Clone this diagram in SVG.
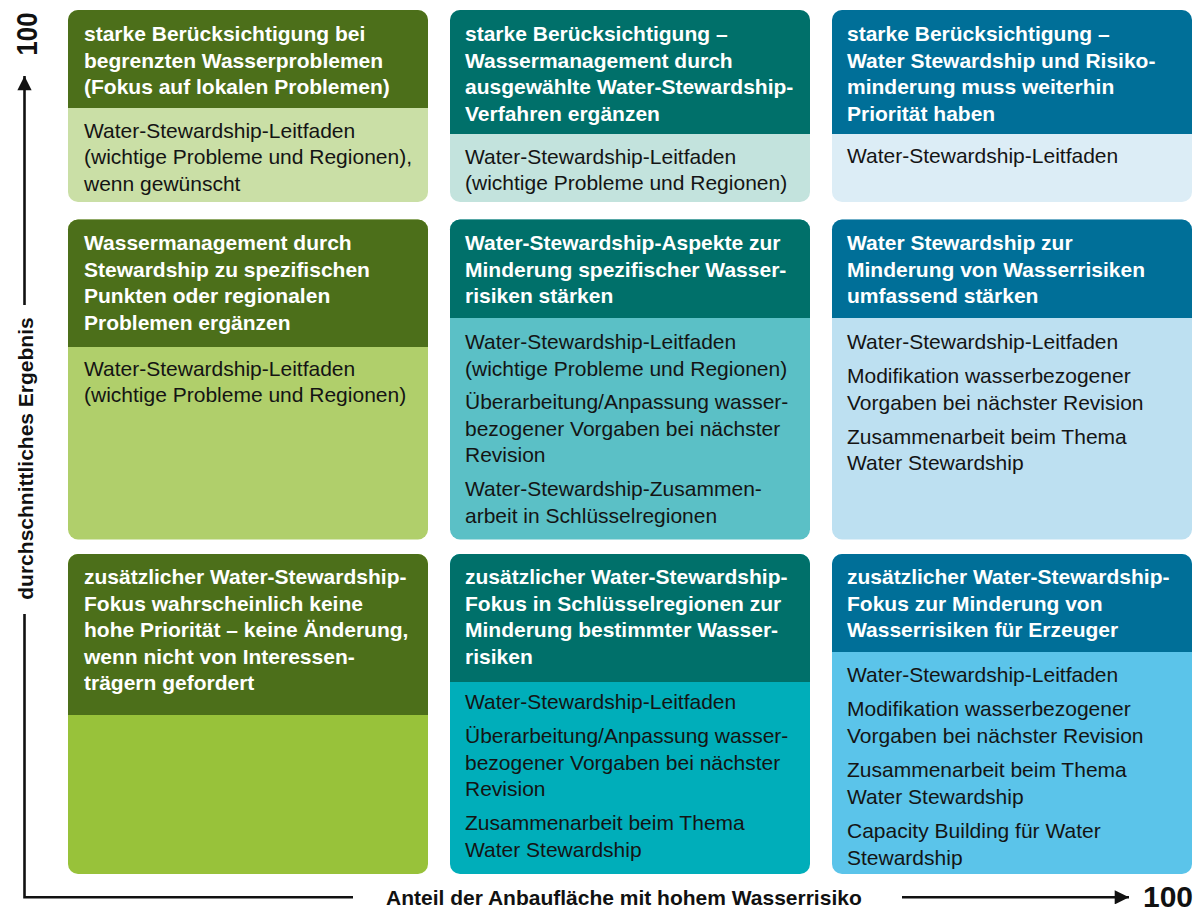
<svg xmlns="http://www.w3.org/2000/svg" width="1203" height="911" viewBox="0 0 1203 911">
<style>
.hd{font-family:"Liberation Sans",Arial,sans-serif;font-weight:bold;font-size:21px;fill:#ffffff}
.bd{font-family:"Liberation Sans",Arial,sans-serif;font-size:21px;fill:#141414}
.ax{font-family:"Liberation Sans",Arial,sans-serif;font-weight:bold;font-size:21px;fill:#111}
.num{font-family:"Liberation Sans",Arial,sans-serif;font-weight:bold;font-size:30px;fill:#111}
.axl{stroke:#111;stroke-width:2.6;fill:none}
.g1{fill:#4c6f1a}.g2{fill:#00706a}.g3{fill:#006f98}
</style>
<defs>
<marker id="ah" viewBox="0 0 10 10" refX="10" refY="5" markerWidth="7" markerHeight="5.5" markerUnits="strokeWidth" orient="auto">
<path d="M0,0 L10,5 L0,10 Z" fill="#111"/>
</marker>
</defs>

<g id="axes">
<line class="axl" x1="24.5" y1="305" x2="24.5" y2="76" marker-end="url(#ah)"/>
<polyline class="axl" points="24.5,614 24.5,897.3 353,897.3"/>
<line class="axl" x1="902" y1="897.3" x2="1129" y2="897.3" marker-end="url(#ah)"/>
<text class="num" transform="translate(37,34) rotate(-90)" text-anchor="middle" textLength="43" lengthAdjust="spacingAndGlyphs">100</text>
<text class="ax" transform="translate(33,458.5) rotate(-90)" text-anchor="middle">durchschnittliches Ergebnis</text>
<text class="ax" x="386" y="905">Anteil der Anbaufläche mit hohem Wasserrisiko</text>
<text class="num" x="1143" y="907">100</text>
</g>

<!-- Row 1 -->
<g id="r1c1">
<rect x="68" y="10" width="360" height="192" rx="10" fill="#cadfa6"/>
<path class="g1" d="M68,108 V20 A10,10 0 0 1 78,10 H418 A10,10 0 0 1 428,20 V108 Z"/>
<text class="hd"><tspan x="84" y="41">starke Berücksichtigung bei</tspan><tspan x="84" y="67.5">begrenzten Wasserproblemen</tspan><tspan x="84" y="94">(Fokus auf lokalen Problemen)</tspan></text>
<text class="bd"><tspan x="84" y="137.5">Water-Stewardship-Leitfaden</tspan><tspan x="84" y="164">(wichtige Probleme und Regionen),</tspan><tspan x="84" y="190.5">wenn gewünscht</tspan></text>
</g>
<g id="r1c2">
<rect x="450" y="10" width="360" height="192" rx="10" fill="#c3e3dd"/>
<path class="g2" d="M450,134 V20 A10,10 0 0 1 460,10 H800 A10,10 0 0 1 810,20 V134 Z"/>
<text class="hd"><tspan x="465" y="41">starke Berücksichtigung –</tspan><tspan x="465" y="67.5">Wassermanagement durch</tspan><tspan x="465" y="94">ausgewählte Water-Stewardship-</tspan><tspan x="465" y="120.5">Verfahren ergänzen</tspan></text>
<text class="bd"><tspan x="465" y="163.5">Water-Stewardship-Leitfaden</tspan><tspan x="465" y="190">(wichtige Probleme und Regionen)</tspan></text>
</g>
<g id="r1c3">
<rect x="832" y="10" width="360" height="192" rx="10" fill="#dcedf6"/>
<path class="g3" d="M832,134 V20 A10,10 0 0 1 842,10 H1182 A10,10 0 0 1 1192,20 V134 Z"/>
<text class="hd"><tspan x="847" y="41">starke Berücksichtigung –</tspan><tspan x="847" y="67.5">Water Stewardship und Risiko-</tspan><tspan x="847" y="94">minderung muss weiterhin</tspan><tspan x="847" y="120.5">Priorität haben</tspan></text>
<text class="bd"><tspan x="847" y="163">Water-Stewardship-Leitfaden</tspan></text>
</g>

<!-- Row 2 -->
<g id="r2c1">
<rect x="68" y="219.5" width="360" height="320" rx="10" fill="#b0cf6b"/>
<path class="g1" d="M68,347 V229.5 A10,10 0 0 1 78,219.5 H418 A10,10 0 0 1 428,229.5 V347 Z"/>
<text class="hd"><tspan x="84" y="250">Wassermanagement durch</tspan><tspan x="84" y="276.5">Stewardship zu spezifischen</tspan><tspan x="84" y="303">Punkten oder regionalen</tspan><tspan x="84" y="329.5">Problemen ergänzen</tspan></text>
<text class="bd"><tspan x="84" y="375.5">Water-Stewardship-Leitfaden</tspan><tspan x="84" y="402">(wichtige Probleme und Regionen)</tspan></text>
</g>
<g id="r2c2">
<rect x="450" y="219.5" width="360" height="320" rx="10" fill="#5bc0c6"/>
<path class="g2" d="M450,318 V229.5 A10,10 0 0 1 460,219.5 H800 A10,10 0 0 1 810,229.5 V318 Z"/>
<text class="hd"><tspan x="465" y="250">Water-Stewardship-Aspekte zur</tspan><tspan x="465" y="276.5">Minderung spezifischer Wasser-</tspan><tspan x="465" y="303">risiken stärken</tspan></text>
<text class="bd"><tspan x="465" y="349">Water-Stewardship-Leitfaden</tspan><tspan x="465" y="375.5">(wichtige Probleme und Regionen)</tspan><tspan x="465" y="409">Überarbeitung/Anpassung wasser-</tspan><tspan x="465" y="435.5">bezogener Vorgaben bei nächster</tspan><tspan x="465" y="462">Revision</tspan><tspan x="465" y="496">Water-Stewardship-Zusammen-</tspan><tspan x="465" y="522.5">arbeit in Schlüsselregionen</tspan></text>
</g>
<g id="r2c3">
<rect x="832" y="219.5" width="360" height="320" rx="10" fill="#bde0f1"/>
<path class="g3" d="M832,318 V229.5 A10,10 0 0 1 842,219.5 H1182 A10,10 0 0 1 1192,229.5 V318 Z"/>
<text class="hd"><tspan x="847" y="250">Water Stewardship zur</tspan><tspan x="847" y="276.5">Minderung von Wasserrisiken</tspan><tspan x="847" y="303">umfassend stärken</tspan></text>
<text class="bd"><tspan x="847" y="349">Water-Stewardship-Leitfaden</tspan><tspan x="847" y="383">Modifikation wasserbezogener</tspan><tspan x="847" y="409.5">Vorgaben bei nächster Revision</tspan><tspan x="847" y="443.5">Zusammenarbeit beim Thema</tspan><tspan x="847" y="470">Water Stewardship</tspan></text>
</g>

<!-- Row 3 -->
<g id="r3c1">
<rect x="68" y="554" width="360" height="320" rx="10" fill="#98c23a"/>
<path class="g1" d="M68,715 V564 A10,10 0 0 1 78,554 H418 A10,10 0 0 1 428,564 V715 Z"/>
<text class="hd"><tspan x="84" y="584">zusätzlicher Water-Stewardship-</tspan><tspan x="84" y="610.5">Fokus wahrscheinlich keine</tspan><tspan x="84" y="637">hohe Priorität – keine Änderung,</tspan><tspan x="84" y="663.5">wenn nicht von Interessen-</tspan><tspan x="84" y="690">trägern gefordert</tspan></text>
</g>
<g id="r3c2">
<rect x="450" y="554" width="360" height="320" rx="10" fill="#00aeba"/>
<path class="g2" d="M450,682 V564 A10,10 0 0 1 460,554 H800 A10,10 0 0 1 810,564 V682 Z"/>
<text class="hd"><tspan x="465" y="584">zusätzlicher Water-Stewardship-</tspan><tspan x="465" y="610.5">Fokus in Schlüsselregionen zur</tspan><tspan x="465" y="637">Minderung bestimmter Wasser-</tspan><tspan x="465" y="663.5">risiken</tspan></text>
<text class="bd"><tspan x="465" y="708.5">Water-Stewardship-Leitfaden</tspan><tspan x="465" y="743">Überarbeitung/Anpassung wasser-</tspan><tspan x="465" y="769.5">bezogener Vorgaben bei nächster</tspan><tspan x="465" y="796">Revision</tspan><tspan x="465" y="830">Zusammenarbeit beim Thema</tspan><tspan x="465" y="856.5">Water Stewardship</tspan></text>
</g>
<g id="r3c3">
<rect x="832" y="554" width="360" height="320" rx="10" fill="#5bc4ea"/>
<path class="g3" d="M832,652 V564 A10,10 0 0 1 842,554 H1182 A10,10 0 0 1 1192,564 V652 Z"/>
<text class="hd"><tspan x="847" y="584">zusätzlicher Water-Stewardship-</tspan><tspan x="847" y="610.5">Fokus zur Minderung von</tspan><tspan x="847" y="637">Wasserrisiken für Erzeuger</tspan></text>
<text class="bd"><tspan x="847" y="681.5">Water-Stewardship-Leitfaden</tspan><tspan x="847" y="716">Modifikation wasserbezogener</tspan><tspan x="847" y="742.5">Vorgaben bei nächster Revision</tspan><tspan x="847" y="777">Zusammenarbeit beim Thema</tspan><tspan x="847" y="803.5">Water Stewardship</tspan><tspan x="847" y="838">Capacity Building für Water</tspan><tspan x="847" y="864.5">Stewardship</tspan></text>
</g>
</svg>
